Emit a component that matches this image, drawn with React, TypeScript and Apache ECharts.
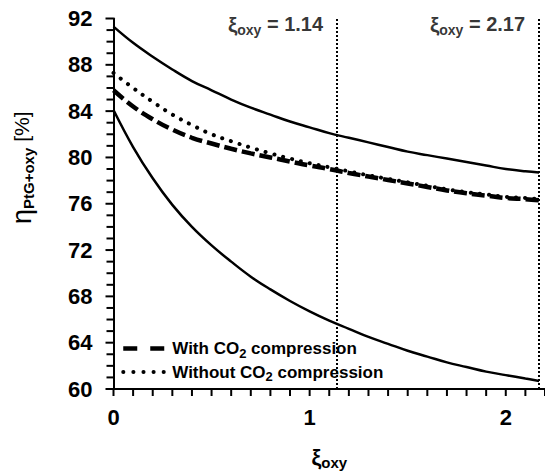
import React, { useEffect, useRef } from "react";
import * as echarts from "echarts";

const xValues = [0, 0.1, 0.2, 0.3, 0.4, 0.5, 0.6, 0.7, 0.8, 0.9, 1.0, 1.1, 1.2, 1.3, 1.4, 1.5, 1.6, 1.7, 1.8, 1.9, 2.0, 2.1, 2.17];
const upperBound = [91.3, 89.9, 88.7, 87.6, 86.6, 85.8, 85.0, 84.3, 83.7, 83.1, 82.6, 82.1, 81.7, 81.3, 80.9, 80.5, 80.2, 79.9, 79.6, 79.3, 79.0, 78.8, 78.7];
const withCompression = [85.8, 84.4, 83.3, 82.4, 81.7, 81.2, 80.75, 80.35, 80.0, 79.65, 79.3, 79.0, 78.65, 78.35, 78.05, 77.75, 77.45, 77.15, 76.9, 76.7, 76.5, 76.4, 76.3];
const withoutCompression = [87.3, 86.0, 84.8, 83.7, 82.8, 82.0, 81.4, 80.85, 80.35, 79.9, 79.5, 79.15, 78.8, 78.45, 78.15, 77.85, 77.55, 77.25, 77.0, 76.8, 76.6, 76.5, 76.4];
const lowerBound = [84.1, 80.9, 78.2, 75.9, 74.0, 72.4, 71.0, 69.7, 68.6, 67.6, 66.7, 65.9, 65.2, 64.5, 63.9, 63.3, 62.8, 62.3, 61.9, 61.5, 61.2, 60.9, 60.7];
const markerValues = [1.14, 2.17];
const xMajorTicks = [0, 1, 2];
const xTickValues = [0, 0.1, 0.2, 0.3, 0.4, 0.5, 0.6, 0.7, 0.8, 0.9, 1.0, 1.1, 1.2, 1.3, 1.4, 1.5, 1.6, 1.7, 1.8, 1.9, 2.0, 2.1, 2.2];
const yTickValues = [60, 61, 62, 63, 64, 65, 66, 67, 68, 69, 70, 71, 72, 73, 74, 75, 76, 77, 78, 79, 80, 81, 82, 83, 84, 85, 86, 87, 88, 89, 90, 91, 92];
const seriesNames = ["With CO2 compression", "Without CO2 compression"];

const FONT = "'Liberation Sans', Arial, Helvetica, sans-serif";
const X_MIN = 0, X_MAX = 2.2, Y_MIN = 60, Y_MAX = 92;

const pairs = (ys: number[]) => xValues.map((x, i) => [x, ys[i]]);
const near = (v: number, list: number[]) => list.some((t) => Math.abs(t - v) < 1e-6);

export default function App() {
  const ref = useRef<HTMLDivElement>(null);
  useEffect(() => {
    if (!ref.current) return;
    const chart = echarts.init(ref.current, null, { renderer: "svg" });
    const subRich = {
      a: { fontFamily: FONT, fontSize: 17, fontWeight: "bold", color: "#000", lineHeight: 22, verticalAlign: "middle" },
      s: { fontFamily: FONT, fontSize: 13, fontWeight: "bold", color: "#000", lineHeight: 13, verticalAlign: "bottom" },
    };
    const dashed = { color: "#000", width: 4.5, type: [13, 5] as number[], cap: "butt" };
    const dotted = { color: "#000", width: 4, type: [0.1, 9] as number[], cap: "round" };
    const tickStyle = { stroke: "#000", lineWidth: 2 };
    chart.setOption({
      animation: false,
      backgroundColor: "#fff",
      grid: { left: 113, right: 0, top: 18.5, bottom: 86 },
      xAxis: {
        type: "value",
        min: X_MIN,
        max: X_MAX,
        interval: 0.1,
        name: "{xi|ξ}{s|oxy}",
        nameLocation: "middle",
        nameGap: 55,
        nameTextStyle: {
          rich: {
            xi: { fontFamily: FONT, fontSize: 22, fontWeight: "bold", color: "#000", lineHeight: 26, verticalAlign: "middle" },
            s: { fontFamily: FONT, fontSize: 15, fontWeight: "bold", color: "#000", lineHeight: 15, verticalAlign: "bottom" },
          },
        },
        axisLine: { show: true, onZero: false, lineStyle: { color: "#000", width: 2 } },
        axisTick: { show: false },
        splitLine: { show: false },
        axisLabel: {
          show: true,
          margin: 17,
          fontFamily: FONT,
          fontSize: 22,
          fontWeight: "bold",
          color: "#000",
          showMaxLabel: false,
          formatter: (v: number) => (near(v, xMajorTicks) ? String(Math.round(v)) : ""),
        },
      },
      yAxis: {
        type: "value",
        min: Y_MIN,
        max: Y_MAX,
        interval: 4,
        name: "{eta|η}{s|PtG+oxy}{p| [%]}",
        nameLocation: "middle",
        nameGap: 78,
        nameTextStyle: {
          padding: [0, 0, 0, 72],
          rich: {
            eta: { fontFamily: FONT, fontSize: 27, color: "#000", lineHeight: 28, verticalAlign: "middle" },
            s: { fontFamily: FONT, fontSize: 15, fontWeight: "bold", color: "#000", lineHeight: 15, verticalAlign: "bottom" },
            p: { fontFamily: FONT, fontSize: 21, color: "#000", lineHeight: 28, verticalAlign: "middle" },
          },
        },
        axisLine: { show: true, onZero: false, lineStyle: { color: "#000", width: 2 } },
        axisTick: { show: false },
        splitLine: { show: false },
        axisLabel: {
          margin: 21,
          fontFamily: FONT,
          fontSize: 22,
          fontWeight: "bold",
          color: "#000",
        },
      },
      legend: {
        orient: "vertical",
        left: 116,
        top: 335,
        itemWidth: 44,
        itemHeight: 14,
        itemGap: 4,
        selectedMode: false,
        data: [
          { name: seriesNames[0], itemStyle: { opacity: 0 }, lineStyle: { ...dashed, type: [14, 13] } },
          { name: seriesNames[1], itemStyle: { opacity: 0 }, lineStyle: { ...dotted, type: [0.1, 10] } },
        ],
        formatter: (name: string) => {
          const parts = name.split("CO2");
          return `{a|${parts[0]}CO}{s|2}{a|${parts[1]}}`;
        },
        textStyle: { rich: subRich },
      },
      series: [
        { type: "line", name: "upper", data: pairs(upperBound), symbol: "none", smooth: 0.4, lineStyle: { color: "#000", width: 2.5 } },
        { type: "line", name: seriesNames[0], data: pairs(withCompression), symbol: "none", smooth: 0.4, lineStyle: dashed, itemStyle: { color: "#000" } },
        { type: "line", name: seriesNames[1], data: pairs(withoutCompression), symbol: "none", smooth: 0.4, lineStyle: dotted, itemStyle: { color: "#000" } },
        { type: "line", name: "lower", data: pairs(lowerBound), symbol: "none", smooth: 0.4, lineStyle: { color: "#000", width: 2.5 } },
        {
          type: "custom",
          name: "xTicks",
          silent: true,
          clip: false,
          z: 5,
          data: xTickValues.map((v) => [v, Y_MIN]),
          renderItem: (params: any, api: any) => {
            const p = api.coord([api.value(0), api.value(1)]);
            return { type: "line", shape: { x1: p[0], y1: p[1], x2: p[0], y2: p[1] + 7 }, style: tickStyle };
          },
        },
        {
          type: "custom",
          name: "yTicks",
          silent: true,
          clip: false,
          z: 5,
          data: yTickValues.map((v) => [X_MIN, v]),
          renderItem: (params: any, api: any) => {
            const p = api.coord([api.value(0), api.value(1)]);
            const len = api.value(1) % 4 === 0 ? 8 : 7;
            return { type: "line", shape: { x1: p[0], y1: p[1], x2: p[0] - len, y2: p[1] }, style: tickStyle };
          },
        },
        {
          type: "scatter",
          name: "markers",
          data: markerValues.map((x) => [x, 91.5]),
          symbolSize: 0,
          label: {
            show: true,
            position: "left",
            distance: 0,
            offset: [-14, 0],
            color: "#000",
            fontFamily: FONT,
            fontWeight: "bold",
            fontSize: 20,
            formatter: (p: any) => `{xi|ξ}{s|oxy}{t| = ${p.value[0].toFixed(2)}}`,
            rich: {
              xi: { fontFamily: FONT, fontSize: 21, fontWeight: "bold", color: "#000", lineHeight: 26, verticalAlign: "middle" },
              s: { fontFamily: FONT, fontSize: 14, fontWeight: "bold", color: "#000", lineHeight: 14, verticalAlign: "bottom" },
              t: { fontFamily: FONT, fontSize: 20, fontWeight: "bold", color: "#000", lineHeight: 26, verticalAlign: "middle" },
            },
          },
          markLine: {
            silent: true,
            symbol: "none",
            label: { show: false },
            lineStyle: { color: "#000", width: 2, type: [2, 2] },
            data: markerValues.map((x) => ({ xAxis: x })),
          },
        },
      ],
    });
    return () => chart.dispose();
  }, []);
  return <div ref={ref} style={{ position: "fixed", left: 0, top: 0, width: 545, height: 475 }} />;
}
